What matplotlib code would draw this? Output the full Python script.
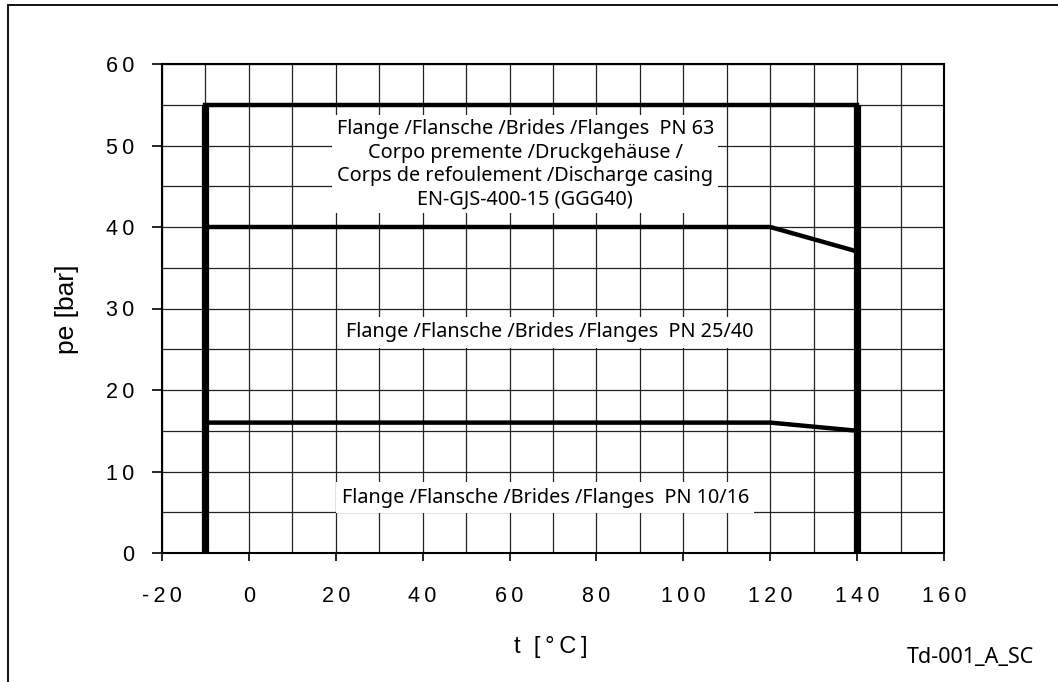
import matplotlib
matplotlib.use("Agg")
import matplotlib.pyplot as plt
from matplotlib.patches import Rectangle
import numpy as np

# ---- data ----
frame_t = [-10, -10, 140, 140]          # outer limit (PN 63)
frame_p = [0, 55, 55, 0]
pn40_t = [-10, 120, 140]
pn40_p = [40, 40, 37]
pn16_t = [-10, 120, 140]
pn16_p = [16, 16, 15]

x_ticks = [-20, 0, 20, 40, 60, 80, 100, 120, 140, 160]
y_ticks = [0, 10, 20, 30, 40, 50, 60]

label_pn63 = ("Flange /Flansche /Brides /Flanges  PN 63\n"
              "Corpo premente /Druckgehäuse /\n"
              "Corps de refoulement /Discharge casing\n"
              "EN-GJS-400-15 (GGG40)")
label_pn40 = "Flange /Flansche /Brides /Flanges  PN 25/40"
label_pn16 = "Flange /Flansche /Brides /Flanges  PN 10/16"
pos_pn63 = (63.6, 47.7)
pos_pn40 = (69.2, 27.1)
pos_pn16 = (68.2, 6.8)

W, H = 1058, 682
fig = plt.figure(figsize=(W / 100, H / 100), dpi=100)
ax = fig.add_axes([162 / W, 1 - 553 / H, (944 - 162) / W, (553 - 64) / H])

ax.set_xlim(-20, 160)
ax.set_ylim(0, 60)

# grid
ax.set_xticks(np.arange(-20, 161, 10), minor=True)
ax.set_yticks(np.arange(0, 61, 5), minor=True)
ax.grid(which="both", color="#222222", linewidth=0.9, zorder=0)
ax.tick_params(which="minor", length=0)

thin = "\u2009"
ax.set_xticks(x_ticks)
ax.set_xticklabels([thin.join(str(v)) for v in x_ticks],
                   fontfamily=["Liberation Sans", "DejaVu Sans"], fontsize=15.5)
ax.set_yticks(y_ticks)
ax.set_yticklabels([thin.join(str(v)) for v in y_ticks],
                   fontfamily=["Liberation Sans", "DejaVu Sans"], fontsize=15.5)
ax.tick_params(axis="x", which="major", direction="out", length=6, width=1.2, pad=18)
ax.tick_params(axis="y", which="major", direction="out", length=7, width=1.2, pad=13)
for s in ax.spines.values():
    s.set_linewidth(1.5)
    s.set_color("black")

# thick limit lines
ax.plot(frame_t[:2], frame_p[:2], color="black", lw=5.2, solid_capstyle="butt", zorder=3)
ax.plot(frame_t[2:], frame_p[2:], color="black", lw=5.2, solid_capstyle="butt", zorder=3)
ax.plot(frame_t[1:3], frame_p[1:3], color="black", lw=3.2, solid_capstyle="projecting", zorder=3)
ax.plot(pn40_t, pn40_p, color="black", lw=3.2, solid_capstyle="butt", zorder=3)
ax.plot(pn16_t, pn16_p, color="black", lw=3.2, solid_capstyle="butt", zorder=3)

tfont = dict(family=["Noto Sans", "DejaVu Sans"], fontsize=14.3, color="black",
             ha="center", va="center", zorder=4)
ax.text(*pos_pn63, label_pn63, linespacing=1.22,
        bbox=dict(facecolor="white", edgecolor="none", pad=3), **tfont)
ax.text(*pos_pn40, label_pn40,
        bbox=dict(facecolor="white", edgecolor="none", pad=4), **tfont)
ax.text(*pos_pn16, label_pn16,
        bbox=dict(facecolor="white", edgecolor="none", pad=4), **tfont)

# axis labels
fig.text(551 / W, 1 - 647 / H, "t  [\u2009°\u2009C\u2009]", ha="center", va="center",
         fontsize=17, family=["Liberation Sans", "DejaVu Sans"])
fig.text(67 / W, 1 - 309 / H, "pe [bar]", ha="center", va="center", rotation=90,
         fontsize=19, family=["Liberation Sans", "DejaVu Sans"])
fig.text(970 / W, 1 - 658 / H, "Td-001_A_SC", ha="center", va="center",
         fontsize=15.5, family=["Noto Sans", "DejaVu Sans"])

# outer frame (left and top edges visible)
fig.add_artist(Rectangle((8 / W, -0.1), 1.2, 1.1 - 5 / H,
                         transform=fig.transFigure, fill=False,
                         edgecolor="black", linewidth=1.3))

fig.savefig("out.png", dpi=100)
